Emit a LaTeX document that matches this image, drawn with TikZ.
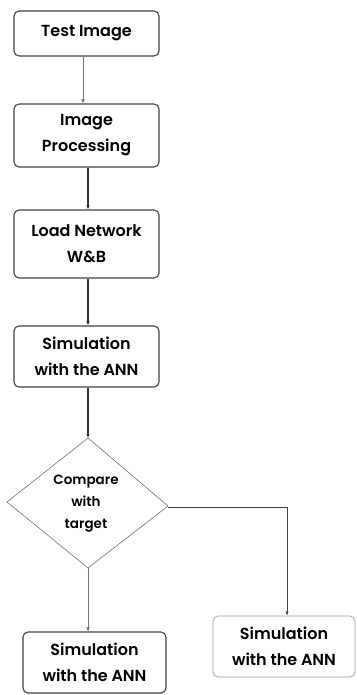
\documentclass[tikz,border=0pt]{standalone}
\usepackage{fontspec}
\setmainfont{Poppins}[BoldFont={Poppins SemiBold}]
\usetikzlibrary{arrows.meta}
\begin{document}
\begin{tikzpicture}[x=1pt,y=-1pt,
  stepbox/.style={draw=black!75, line width=1.1pt, rounded corners=5pt, align=center,
    font=\fontsize{16}{26}\selectfont\bfseries, inner sep=0pt},
  flow/.style={draw=black!80, line width=1.1pt, -{Latex[length=4pt,width=3.5pt]}},
  thinflow/.style={draw=black!55, line width=0.5pt, -{Latex[length=4pt,width=3.5pt]}}]
\useasboundingbox (0,0) rectangle (356,695);
% process boxes
\node[stepbox, minimum width=145pt, minimum height=45pt] (test) at (86.5,33.5) {Test Image};
\node[stepbox, minimum width=145pt, minimum height=63pt] (proc) at (86.5,135.5) {Image\\Processing};
\node[stepbox, minimum width=145pt, minimum height=68pt] (load) at (86.5,244) {Load Network\\W\&B};
\node[stepbox, minimum width=145pt, minimum height=61pt] (sim) at (86.5,356.5) {Simulation\\with the ANN};
% decision
\coordinate (dtop) at (88,438);
\coordinate (dleft) at (7,502);
\coordinate (dright) at (168,506);
\coordinate (dbot) at (88,568);
\draw[draw=black!55, line width=0.6pt] (dtop) -- (dright) -- (dbot) -- (dleft) -- cycle;
\node[align=center, font=\fontsize{13.5}{22}\selectfont\bfseries] (cmp) at (86,504) {Compare\\with\\target};
% result boxes
\node[stepbox, minimum width=143pt, minimum height=61pt] (resl) at (94.5,662.5) {Simulation\\with the ANN};
\node[stepbox, draw=black!40, line width=0.7pt, minimum width=142pt, minimum height=61pt] (resr) at (284,646.5) {Simulation\\with the ANN};
% connectors
\draw[thinflow] (test.south -| 83,0) -- (proc.north -| 83,0);
\draw[flow] (proc.south -| 88,0) -- (load.north -| 88,0);
\draw[flow] (load.south -| 88,0) -- (sim.north -| 88,0);
\draw[flow] (sim.south -| 88,0) -- (dtop);
\draw[thinflow] (dbot) -- (resl.north -| dbot);
\coordinate (turn) at (287,507);
\draw[draw=black!75, line width=0.8pt, -{Latex[length=4pt,width=3.5pt]}] (dright |- turn) -- (turn) -- (resr.north -| turn);
\end{tikzpicture}
\end{document}
